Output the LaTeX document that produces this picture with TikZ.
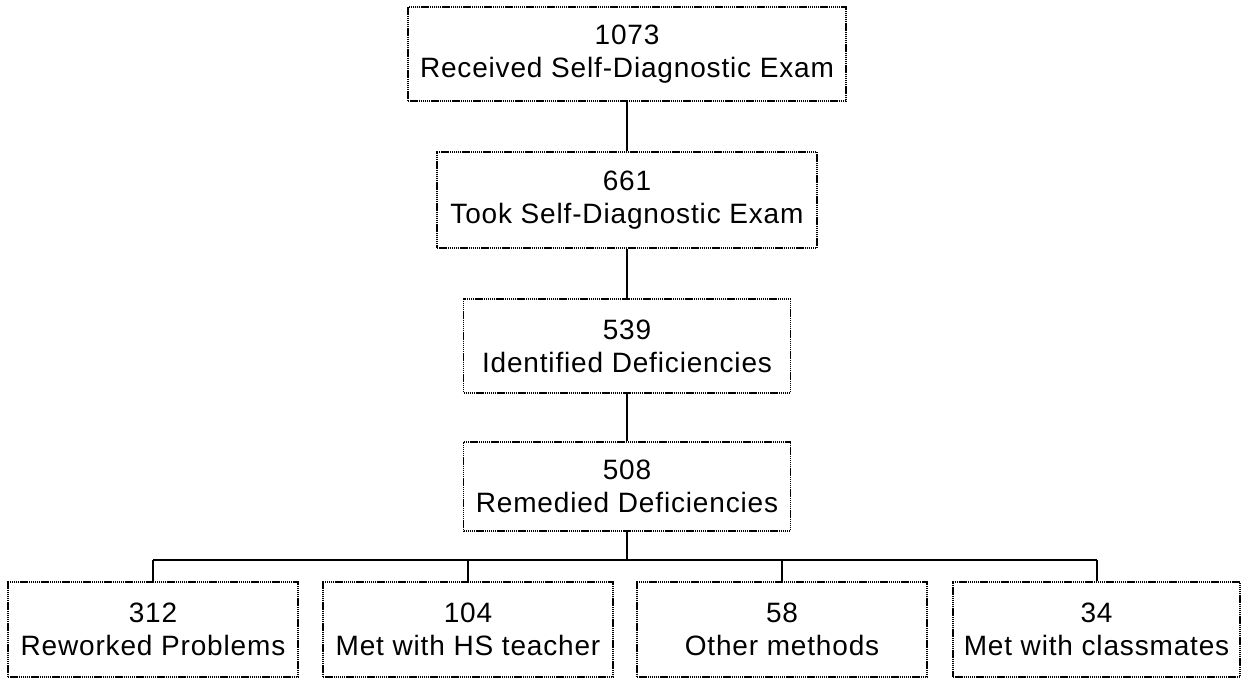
\documentclass[tikz,border=0pt]{standalone}
\usepackage{fontspec}
\setmainfont[LetterSpace=3]{Liberation Sans}
\usepackage{tikz}
\usetikzlibrary{positioning}
\tikzstyle{box} = [draw=black, line width=1.5pt, dash pattern=on 1.4pt off 0.7pt, align=center, inner sep=0pt, font=\fontsize{28}{33}\selectfont]
\tikzstyle{line} = [line width=2pt]

\begin{document}
\begin{tikzpicture}[x=1pt,y=-1pt]
    \useasboundingbox (0,0) rectangle (1246,679);
    \node [box, minimum width=438, minimum height=94] (received) at (627,54) {1073\\Received Self-Diagnostic Exam};
    \node [box, minimum width=380, minimum height=96] (took) at (627,200) {661\\Took Self-Diagnostic Exam};
    \node [box, minimum width=327, minimum height=94] (identified) at (627,346) {539\\Identified Deficiencies};
    \node [box, minimum width=327, minimum height=89] (remedied) at (627,486.5) {508\\Remedied Deficiencies};
    \node [box, minimum width=290, minimum height=95] (reworked) at (153,629.5) {312\\Reworked Problems};
    \node [box, minimum width=290, minimum height=95] (teacher) at (468,629.5) {104\\Met with HS teacher};
    \node [box, minimum width=290, minimum height=95] (other) at (782,629.5) {58\\Other methods};
    \node [box, minimum width=287, minimum height=95] (classmates) at (1096.5,629.5) {34\\Met with classmates};
    \coordinate (bus) at (627,560);
    \draw [line] (received) -- (took);
    \draw [line] (took) -- (identified);
    \draw [line] (identified) -- (remedied);
    \draw [line] (remedied) -- (bus);
    \draw [line, line width=2.8pt] (reworked.north |- bus) -- (classmates.north |- bus);
    \foreach \n in {reworked, teacher, other, classmates}
        \draw [line] (\n.north) -- (\n.north |- bus);
\end{tikzpicture}
\end{document}
